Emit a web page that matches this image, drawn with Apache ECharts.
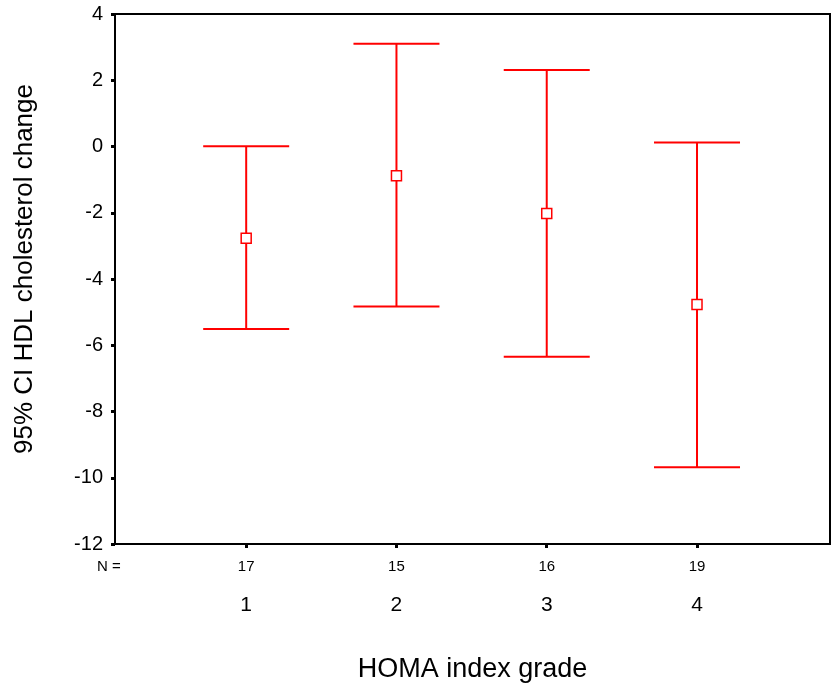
<!DOCTYPE html>
<html>
<head>
<meta charset="utf-8">
<script src="https://cdn.jsdelivr.net/npm/echarts@6/dist/echarts.min.js"></script>
<style>
html,body{margin:0;padding:0;background:#fff;}
#chart{width:837px;height:691px;}
</style>
</head>
<body>
<div id="chart"></div>
<script>
var categories = [1, 2, 3, 4];
var nValues = [17, 15, 16, 19];
var means = [-2.77, -0.88, -2.02, -4.77];
var lowerCI = [-5.51, -4.83, -6.35, -9.68];
var upperCI = [0.01, 3.10, 2.31, 0.12];
var yTicks = [-12, -10, -8, -6, -4, -2, 0, 2, 4];

var FONT = '"Liberation Sans", Arial, sans-serif';
var chart = echarts.init(document.getElementById('chart'));

var barData = categories.map(function (c, i) { return [c, lowerCI[i], upperCI[i]]; });
var meanData = categories.map(function (c, i) { return [c, means[i]]; });

chart.setOption({
  animation: false,
  backgroundColor: '#fff',
  grid: { left: 115, top: 14, right: 7, bottom: 147, show: true, borderColor: '#000', borderWidth: 2, backgroundColor: 'transparent' },
  xAxis: {
    type: 'value', min: 0.127, max: 4.885,
    splitLine: { show: false },
    axisLine: { show: true, onZero: false, lineStyle: { color: '#000', width: 2 } },
    axisTick: { show: true, customValues: categories, length: 4, lineStyle: { color: '#000', width: 3 } },
    axisLabel: {
      show: true, customValues: categories, margin: 13, color: '#000', fontFamily: FONT,
      formatter: function (v) {
        var i = categories.indexOf(v);
        return '{n|' + nValues[i] + '}\n{c|' + v + '}';
      },
      rich: {
        n: { fontSize: 15, lineHeight: 20, fontFamily: FONT, color: '#000' },
        c: { fontSize: 21, lineHeight: 56, fontFamily: FONT, color: '#000' }
      }
    },
    name: 'HOMA index grade', nameLocation: 'middle', nameGap: 112,
    nameTextStyle: { fontSize: 27, fontFamily: FONT, color: '#000' }
  },
  yAxis: {
    type: 'value', min: -12, max: 4, interval: 2,
    splitLine: { show: false },
    axisLine: { show: true, onZero: false, lineStyle: { color: '#000', width: 2 } },
    axisTick: { show: true, length: 4, lineStyle: { color: '#000', width: 3 } },
    axisLabel: { margin: 12, fontSize: 20, color: '#000', fontFamily: FONT,
      formatter: function (v) { return yTicks.indexOf(v) >= 0 ? String(v) : ''; } },
    name: '95% CI HDL cholesterol change', nameLocation: 'middle', nameGap: 77,
    nameTextStyle: { fontSize: 26, fontFamily: FONT, color: '#000', padding: [0, 0, 0, 20] }
  },
  graphic: [{
    type: 'text', left: 97, top: 559,
    style: { text: 'N =', fontSize: 15, fontFamily: FONT, fill: '#000' }
  }],
  series: [{
    type: 'custom',
    data: barData,
    renderItem: function (params, api) {
      var x = api.value(0);
      var lo = api.coord([x, api.value(1)]);
      var hi = api.coord([x, api.value(2)]);
      var hw = 43;
      var st = { stroke: '#ff0000', lineWidth: 2 };
      return {
        type: 'group',
        children: [
          { type: 'line', shape: { x1: lo[0], y1: lo[1], x2: hi[0], y2: hi[1] }, style: st },
          { type: 'line', shape: { x1: lo[0] - hw, y1: lo[1], x2: lo[0] + hw, y2: lo[1] }, style: st },
          { type: 'line', shape: { x1: hi[0] - hw, y1: hi[1], x2: hi[0] + hw, y2: hi[1] }, style: st }
        ]
      };
    },
    z: 2
  }, {
    type: 'scatter',
    data: meanData,
    symbol: 'rect', symbolSize: 10,
    itemStyle: { color: '#fff', borderColor: '#ff0000', borderWidth: 1.5, opacity: 1 },
    z: 3
  }]
});
</script>
</body>
</html>
